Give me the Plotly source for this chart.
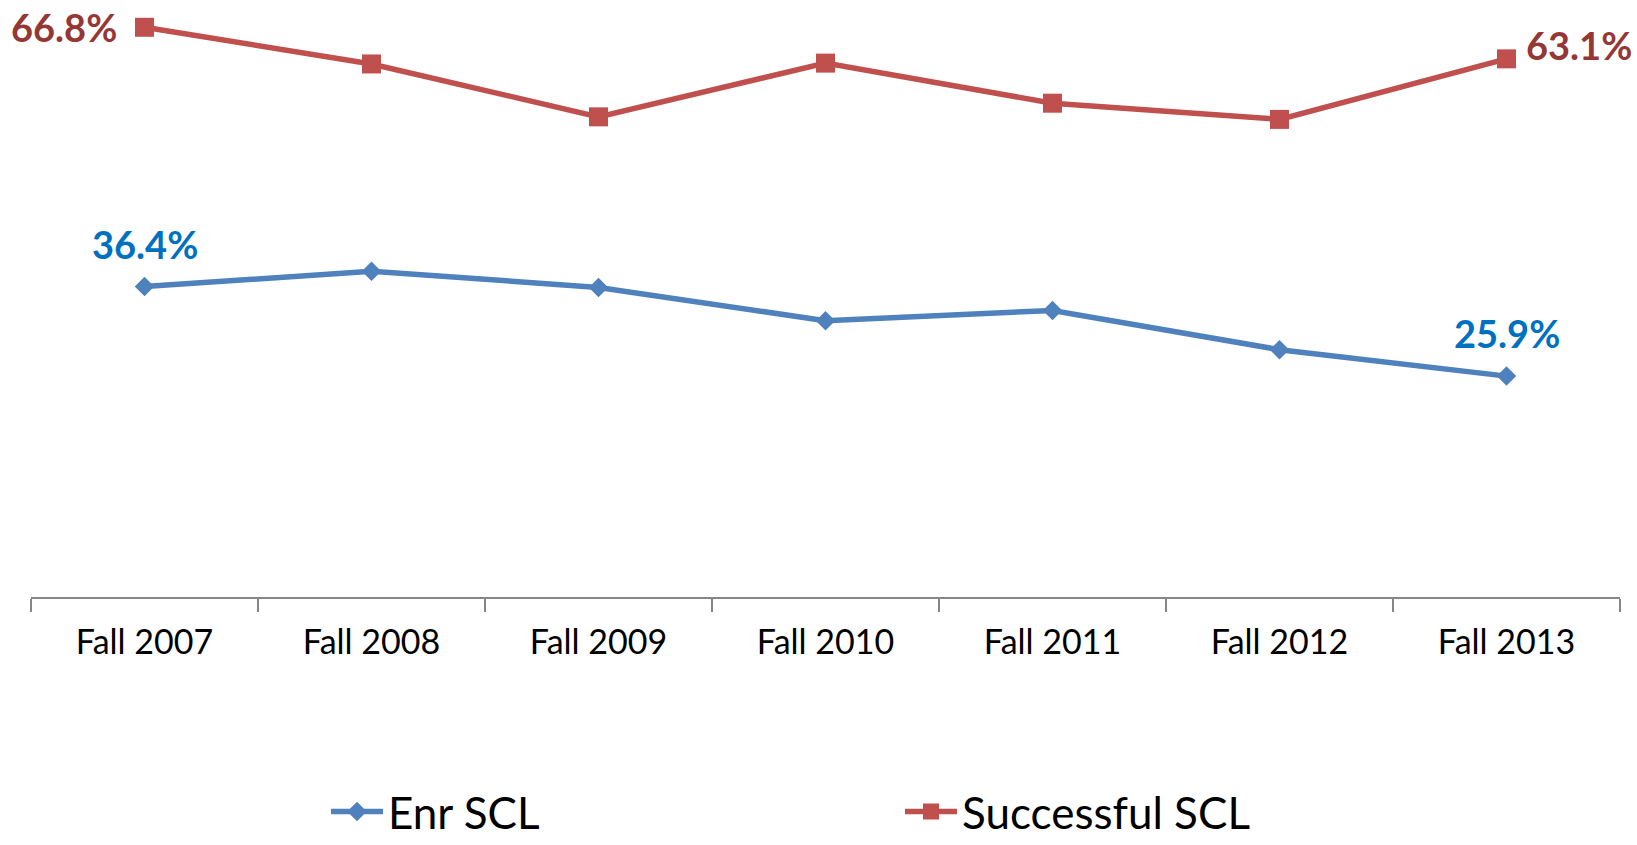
import plotly.graph_objects as go

categories = ["Fall 2007", "Fall 2008", "Fall 2009", "Fall 2010", "Fall 2011", "Fall 2012", "Fall 2013"]
enr_scl = [36.4, 38.2, 36.3, 32.4, 33.6, 29.0, 25.9]
successful_scl = [66.8, 62.5, 56.3, 62.6, 57.9, 56.0, 63.1]

RED = "#C0504D"
BLUE = "#4F81BD"
RED_LABEL = "#953735"
BLUE_LABEL = "#0070C0"
FONT = "Lato, 'Noto Sans', sans-serif"

fig = go.Figure()
fig.add_trace(go.Scatter(
    x=categories, y=enr_scl, name="Enr SCL", mode="lines+markers",
    line=dict(color=BLUE, width=5.5),
    marker=dict(symbol="diamond", size=15, color=BLUE),
    cliponaxis=False,
))
fig.add_trace(go.Scatter(
    x=categories, y=successful_scl, name="Successful SCL", mode="lines+markers",
    line=dict(color=RED, width=5.5),
    marker=dict(symbol="square", size=19, color=RED),
    cliponaxis=False,
))

label_font = dict(family=FONT, size=38, weight="bold")
fig.add_annotation(x=categories[0], y=successful_scl[0], text=f"{successful_scl[0]:.1f}%",
                   showarrow=False, xshift=-81, yshift=0,
                   font=dict(color=RED_LABEL, **label_font))
fig.add_annotation(x=categories[-1], y=successful_scl[-1], text=f"{successful_scl[-1]:.1f}%",
                   showarrow=False, xshift=72, yshift=14,
                   font=dict(color=RED_LABEL, **label_font))
fig.add_annotation(x=categories[0], y=enr_scl[0], text=f"{enr_scl[0]:.1f}%",
                   showarrow=False, xshift=0, yshift=43,
                   font=dict(color=BLUE_LABEL, **label_font))
fig.add_annotation(x=categories[-1], y=enr_scl[-1], text=f"{enr_scl[-1]:.1f}%",
                   showarrow=False, xshift=0, yshift=43,
                   font=dict(color=BLUE_LABEL, **label_font))

fig.update_layout(
    width=1637, height=845,
    margin=dict(l=31, r=17, t=0, b=248),
    paper_bgcolor="white", plot_bgcolor="white",
    showlegend=True,
    legend=dict(
        orientation="h", xref="container", yref="container",
        x=326 / 1637, xanchor="left", y=1 - 812 / 845, yanchor="middle",
        font=dict(family=FONT, size=44, color="black"),
        entrywidth=507, itemwidth=52, bgcolor="rgba(0,0,0,0)",
    ),
    xaxis=dict(
        type="category", range=[-0.5, 6.5],
        showline=True, linecolor="#868686", linewidth=1.5,
        ticks="outside", tickson="boundaries", ticklen=13, tickcolor="#868686", tickwidth=1.5,
        tickfont=dict(family=FONT, size=34, color="black"),
        showgrid=False, zeroline=False, ticklabelstandoff=14,
    ),
    yaxis=dict(
        range=[0, 70], visible=False, showgrid=False, zeroline=False,
    ),
)

fig.write_html("out.html", config={"displayModeBar": False})

# remove the browser's default body margin so the figure fills the window exactly
with open("out.html", "r", encoding="utf-8") as f:
    html = f.read()
html = html.replace("<head>", "<head><style>html,body{margin:0;padding:0;overflow:hidden;}</style>", 1)
with open("out.html", "w", encoding="utf-8") as f:
    f.write(html)
